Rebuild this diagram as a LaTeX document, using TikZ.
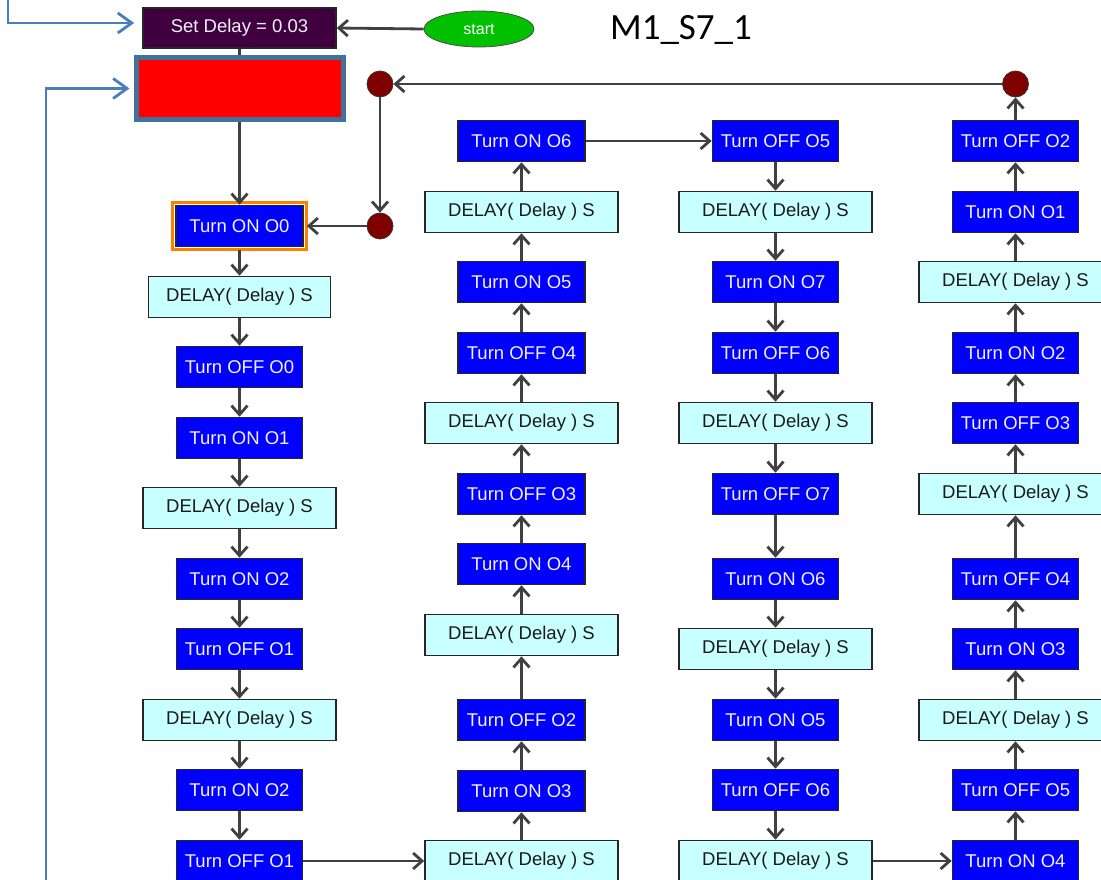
\documentclass[tikz,border=0pt]{standalone}
\usepackage{fontspec}
\setmainfont{Liberation Sans}
\newfontfamily\calib{Carlito}
\usetikzlibrary{arrows.meta,shapes.geometric}
\definecolor{boxblue}{HTML}{0000FF}
\definecolor{dlycyan}{HTML}{C8FFFF}
\definecolor{linegray}{HTML}{404040}
\definecolor{setpurple}{HTML}{400040}
\definecolor{startgreen}{HTML}{00C000}
\definecolor{dotred}{HTML}{800000}
\definecolor{redbox}{HTML}{FF0000}
\definecolor{redframe}{HTML}{41719C}
\definecolor{bluearrow}{HTML}{4A7EBB}
\definecolor{selorange}{HTML}{FF8000}
\definecolor{textwhite}{HTML}{F4F0FF}
\definecolor{textdark}{HTML}{1A1A1A}
\tikzset{
  basebox/.style={rectangle, draw=black!85, line width=1.6pt, inner sep=0pt,
    minimum height=41pt, font=\fontsize{18.5}{20}\selectfont},
  onbox/.style={basebox, fill=boxblue, text=textwhite, minimum width=126pt},
  dlybox/.style={basebox, fill=dlycyan, text=textdark, minimum width=193pt},
  dot/.style={circle, fill=dotred, draw=black!80, line width=0.8pt, minimum size=26pt, inner sep=0pt},
  arr/.style={draw=linegray, line width=2.8pt, -{Straight Barb[length=9pt,width=16pt]}},
  plainline/.style={draw=linegray, line width=2.8pt},
  bluearr/.style={draw=bluearrow, line width=2.8pt, -{Straight Barb[length=14pt,width=20pt]}}
}
\begin{document}
\begin{tikzpicture}[x=1pt,y=-1pt]
\useasboundingbox (0,0) rectangle (1101,880);
\fill[white] (0,0) rectangle (1101,880);

% top
\node[basebox, fill=setpurple, text=textwhite, minimum width=193pt, minimum height=40pt] (setd) at (239.5,28) {Set Delay = 0.03};
\node[ellipse, fill=startgreen, draw=black!70, line width=0.8pt, minimum width=110pt, minimum height=36pt, inner sep=0pt, text=white, font=\fontsize{16}{18}\selectfont] (start) at (479,29) {start};
\node[font=\calib\fontsize{37}{40}\selectfont, text=black, inner sep=0pt] (title) at (681,30) {M1\_S7\_1};
\node[rectangle, fill=redbox, draw=redframe, line width=5pt, minimum width=207pt, minimum height=62pt, inner sep=0pt] (red) at (239.5,88.5) {};

\node[dot] (c1) at (380,84) {};
\node[dot] (c2) at (380,226) {};
\node[dot] (c3) at (1015.5,84) {};

% column 1
\node[onbox, minimum width=127pt] (a1) at (239.5,226) {Turn ON O0};
\draw[selorange, line width=3pt] ([shift={(-2.5,-2.5)}]a1.north west) rectangle ([shift={(2.5,2.5)}]a1.south east);
\node[dlybox, minimum width=182pt] (a2) at (239.5,297) {DELAY( Delay ) S};
\node[onbox] (a3) at (239.5,367) {Turn OFF O0};
\node[onbox] (a4) at (239.5,438) {Turn ON O1};
\node[dlybox] (a5) at (239.5,508) {DELAY( Delay ) S};
\node[onbox] (a6) at (239.5,579) {Turn ON O2};
\node[onbox] (a7) at (239.5,649) {Turn OFF O1};
\node[dlybox] (a8) at (239.5,720) {DELAY( Delay ) S};
\node[onbox] (a9) at (239.5,790) {Turn ON O2};
\node[onbox] (a10) at (239.5,861) {Turn OFF O1};

% column 2 (upwards)
\node[onbox, minimum width=127pt] (b1) at (521.5,141) {Turn ON O6};
\node[dlybox] (b2) at (521.5,212) {DELAY( Delay ) S};
\node[onbox, minimum width=127pt] (b3) at (521.5,282) {Turn ON O5};
\node[onbox, minimum width=127pt] (b4) at (521.5,353) {Turn OFF O4};
\node[dlybox] (b5) at (521.5,423) {DELAY( Delay ) S};
\node[onbox, minimum width=127pt] (b6) at (521.5,494) {Turn OFF O3};
\node[onbox, minimum width=127pt] (b7) at (521.5,564) {Turn ON O4};
\node[dlybox] (b8) at (521.5,635) {DELAY( Delay ) S};
\node[onbox, minimum width=127pt] (b9) at (521.5,720) {Turn OFF O2};
\node[onbox, minimum width=127pt] (b10) at (521.5,791) {Turn ON O3};
\node[dlybox] (b11) at (521.5,861) {DELAY( Delay ) S};

% column 3 (downwards)
\node[onbox] (d1) at (775.5,141) {Turn OFF O5};
\node[dlybox] (d2) at (775.5,212) {DELAY( Delay ) S};
\node[onbox] (d3) at (775.5,282) {Turn ON O7};
\node[onbox] (d4) at (775.5,353) {Turn OFF O6};
\node[dlybox] (d5) at (775.5,423) {DELAY( Delay ) S};
\node[onbox] (d6) at (775.5,494) {Turn OFF O7};
\node[onbox] (d7) at (775.5,579) {Turn ON O6};
\node[dlybox] (d8) at (775.5,649) {DELAY( Delay ) S};
\node[onbox] (d9) at (775.5,720) {Turn ON O5};
\node[onbox] (d10) at (775.5,790) {Turn OFF O6};
\node[dlybox] (d11) at (775.5,861) {DELAY( Delay ) S};

% column 4 (upwards)
\node[onbox] (e1) at (1015.5,141) {Turn OFF O2};
\node[onbox] (e2) at (1015.5,212) {Turn ON O1};
\node[dlybox] (e3) at (1015.5,282) {DELAY( Delay ) S};
\node[onbox] (e4) at (1015.5,353) {Turn ON O2};
\node[onbox] (e5) at (1015.5,423) {Turn OFF O3};
\node[dlybox] (e6) at (1015.5,494) {DELAY( Delay ) S};
\node[onbox] (e7) at (1015.5,579) {Turn OFF O4};
\node[onbox] (e8) at (1015.5,649) {Turn ON O3};
\node[dlybox] (e9) at (1015.5,720) {DELAY( Delay ) S};
\node[onbox] (e10) at (1015.5,790) {Turn OFF O5};
\node[onbox] (e11) at (1015.5,861) {Turn ON O4};

% connectors top
\draw[arr] (start.west) -- (setd.east);
\draw[plainline] (setd.south) -- (red.north);
\draw[arr] (red.south) -- (a1.north);
\draw[arr] (c3.west) -- (c1.east);
\draw[arr] (c1.south) -- (c2.north);
\draw[arr] (c2.west) -- ([xshift=3pt]a1.east);
\draw[arr] (e1.north) -- (c3.south);

% column 1 downwards
\draw[arr] ([yshift=-2.5pt]a1.south) -- (a2.north);
\foreach \s/\t in {a2/a3,a3/a4,a4/a5,a5/a6,a6/a7,a7/a8,a8/a9,a9/a10}
  \draw[arr] (\s.south) -- (\t.north);
\draw[arr] (a10.east) -- (b11.west);

% column 2 upwards
\foreach \s/\t in {b11/b10,b10/b9,b9/b8,b8/b7,b7/b6,b6/b5,b5/b4,b4/b3,b3/b2,b2/b1}
  \draw[arr] (\s.north) -- (\t.south);
\draw[arr] (b1.east) -- (d1.west);

% column 3 downwards
\foreach \s/\t in {d1/d2,d2/d3,d3/d4,d4/d5,d5/d6,d6/d7,d7/d8,d8/d9,d9/d10,d10/d11}
  \draw[arr] (\s.south) -- (\t.north);
\draw[arr] (d11.east) -- (e11.west);

% column 4 upwards
\foreach \s/\t in {e11/e10,e10/e9,e9/e8,e8/e7,e7/e6,e6/e5,e5/e4,e4/e3,e3/e2,e2/e1}
  \draw[arr] (\s.north) -- (\t.south);

% blue incoming lines
\coordinate (p1) at (8,0);
\coordinate (p2) at (46,880);
\draw[bluearr] (p1) |- ([xshift=-8pt,yshift=5pt]setd.west);
\draw[bluearr] (p2) |- ([xshift=-4pt]red.west);
\end{tikzpicture}
\end{document}
